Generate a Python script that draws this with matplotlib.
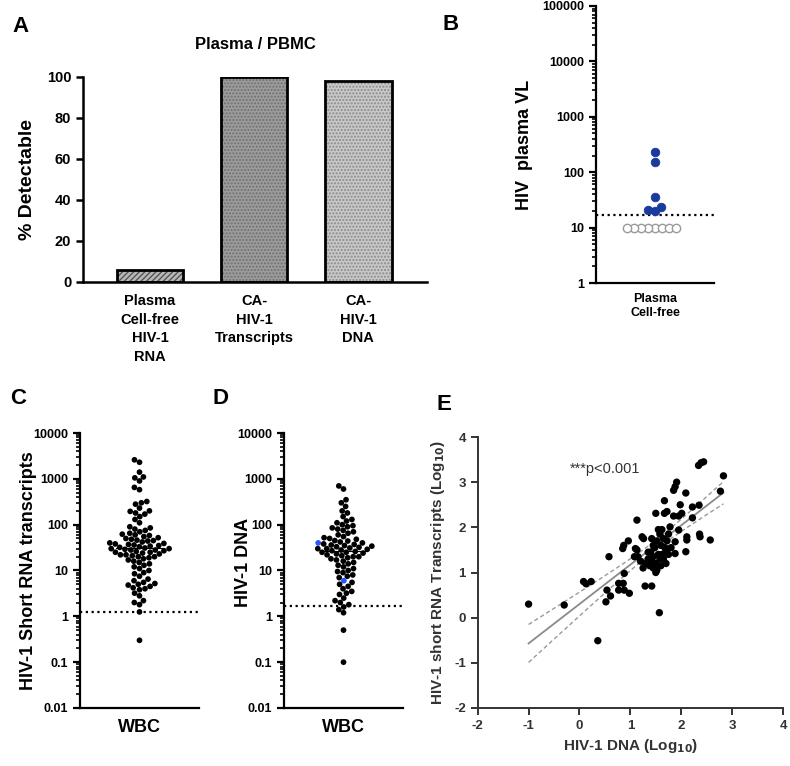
import numpy as np
import matplotlib.pyplot as plt
from matplotlib.ticker import LogLocator, NullFormatter

plt.rcParams['font.family'] = ['Liberation Sans', 'DejaVu Sans']
plt.rcParams['font.weight'] = 'bold'
plt.rcParams['axes.labelweight'] = 'bold'
plt.rcParams['axes.titleweight'] = 'bold'
plt.rcParams['axes.unicode_minus'] = False
plt.rcParams['hatch.linewidth'] = 1.0

# ---- data ----
a_labels = ['Plasma\nCell-free\nHIV-1\nRNA', 'CA-\nHIV-1\nTranscripts', 'CA-\nHIV-1\nDNA']
a_values = [6, 100, 98]

b_detect = [230, 150, 35, 20, 21, 24]
b_undetect = [10, 10, 10, 10, 10, 10, 10, 10]
b_limit = 17

c_values = [2600, 2300, 1400, 1100, 1050, 900, 650, 580, 320, 300, 280, 230, 200, 195,
            180, 170, 150, 130, 110, 90, 85, 80, 75, 70, 65, 62, 60, 58, 55, 52, 50, 48,
            46, 45, 44, 42, 40, 39, 38, 37, 36, 35, 34, 33, 32, 31, 30, 30, 29, 28, 28,
            27, 26, 25, 25, 24, 23, 22, 22, 21, 20, 20, 19, 18, 17, 16, 15, 14, 13, 12,
            11, 10, 9, 8.5, 7.5, 6.5, 6, 5.5, 5.2, 5, 4.8, 4.5, 4.2, 4, 3.8, 3.2, 2.8,
            2.2, 2.0, 1.8, 1.25, 0.3]
c_limit = 1.25

d_values = [700, 600, 350, 300, 250, 200, 180, 150, 130, 120, 110, 100, 95, 90, 85, 80,
            75, 70, 65, 60, 55, 52, 50, 48, 45, 44, 42, 40, 40, 38, 37, 36, 35, 34, 33,
            32, 31, 30, 30, 29, 28, 27, 26, 25, 25, 24, 23, 22, 21, 20, 20, 19, 18, 17,
            16, 15, 14, 13, 12, 11, 10, 9.5, 9, 8, 7.5, 7, 6, 5.5, 5, 4.5, 4, 3.5, 3.2,
            3, 2.5, 2.2, 2, 1.8, 1.6, 1.4, 1.2, 0.5, 0.1]
d_blue = [40, 6]
d_limit = 1.7

e_dna = [-1.0, -0.30, 0.36, 0.08, 0.13, 0.23, 0.54, 0.52, 0.61, 0.58, 0.85, 0.87, 0.96,
         0.88, 0.77, 0.86, 0.77, 0.88, 0.98, 1.13, 1.10, 1.13, 1.08, 1.23, 1.26, 1.29,
         1.42, 1.57, 1.50, 1.67, 1.67, 1.72, 1.85, 1.88, 1.91, 1.85, 1.95, 2.01, 1.98,
         2.09, 2.22, 2.35, 2.34, 2.39, 2.44, 2.83, 2.77, 2.11, 2.11, 2.09, 2.36, 2.37,
         2.57, 2.22, 1.88, 1.88, 1.78, 1.95,
         1.35, 1.40, 1.45, 1.50, 1.55, 1.48, 1.52, 1.60, 1.58, 1.55, 1.62, 1.65, 1.70,
         1.65, 1.60, 1.50, 1.45, 1.40, 1.35, 1.30, 1.25, 1.70, 1.75, 1.68, 1.45, 1.42,
         1.58, 1.52, 1.38, 1.62, 1.72, 1.80, 1.75, 1.20, 1.15]
e_rna = [0.30, 0.28, -0.51, 0.80, 0.75, 0.80, 0.61, 0.35, 0.48, 1.35, 1.53, 1.60, 1.70,
         0.98, 0.76, 0.76, 0.61, 0.61, 0.54, 2.16, 1.53, 1.50, 1.35, 1.79, 1.75, 0.70,
         0.70, 0.11, 2.31, 2.59, 2.31, 2.35, 2.82, 2.90, 3.00, 2.25, 2.25, 2.31, 2.50,
         2.76, 2.45, 2.49, 3.37, 3.43, 3.45, 3.14, 2.80, 1.79, 1.72, 1.46, 1.85, 1.79,
         1.72, 2.21, 1.68, 1.42, 2.01, 1.94,
         1.30, 1.45, 1.35, 1.20, 1.40, 1.55, 1.70, 1.60, 1.85, 1.95, 1.95, 1.75, 1.50,
         1.30, 1.15, 1.00, 1.10, 1.25, 1.45, 1.20, 1.10, 1.20, 1.40, 1.55, 1.60, 1.75,
         1.30, 1.05, 1.15, 1.40, 1.70, 1.55, 1.85, 1.25, 1.35]

BLUE = '#1a3a9e'

fig = plt.figure(figsize=(7.9, 7.66), dpi=100)
W, H = 790.0, 766.0


def add_ax(left, top, right, bottom):
    return fig.add_axes([left / W, 1 - bottom / H, (right - left) / W, (bottom - top) / H])


def style(ax, lw=1.6):
    for s in ('top', 'right'):
        ax.spines[s].set_visible(False)
    for s in ('left', 'bottom'):
        ax.spines[s].set_linewidth(lw)
    ax.tick_params(width=lw, length=5, labelsize=9)
    ax.tick_params(which='minor', width=1.2, length=3)


def logstyle(ax):
    ax.set_yscale('log')
    ax.yaxis.set_minor_locator(LogLocator(base=10, subs=np.arange(2, 10)))
    ax.yaxis.set_minor_formatter(NullFormatter())
    ax.yaxis.set_major_formatter(plt.FuncFormatter(lambda v, p: ('%g' % v)))


def swarm_offsets(ax, vals, diam):
    # simple beeswarm in pixel space, returns x offsets in data units
    pts = ax.transData.transform(np.column_stack([np.zeros(len(vals)), vals]))
    ys = pts[:, 1]
    ppu = ax.transData.transform((1, 1))[0] - ax.transData.transform((0, 1))[0]
    order = np.argsort(ys)
    placed = []
    xs = np.zeros(len(vals))
    for i in order:
        cands = [0.0]
        for (px, py) in placed:
            dy = ys[i] - py
            if abs(dy) < diam:
                dx = np.sqrt(diam ** 2 - dy ** 2)
                cands += [px - dx, px + dx]
        cands.sort(key=abs)
        for c in cands:
            if all((c - px) ** 2 + (ys[i] - py) ** 2 >= diam ** 2 - 1e-6 for px, py in placed):
                break
        placed.append((c, ys[i]))
        xs[i] = c
    return xs / ppu


# ---- A ----
axA = add_ax(83, 77, 427, 282)
style(axA, 1.8)
xA = np.arange(len(a_values))
faces = ['#b8b8b8', '#9c9c9c', '#c8c8c8']
hatches = ['//////', '.....', '.....']
hcols = ['#555555', '#707070', '#8a8a8a']
for i in range(len(a_values)):
    axA.bar(xA[i], a_values[i], width=0.64, color=faces[i], hatch=hatches[i],
            edgecolor=hcols[i], linewidth=0, zorder=2)
    axA.bar(xA[i], a_values[i], width=0.64, fill=False, edgecolor='black',
            linewidth=2.0, zorder=3)
axA.set_xlim(-0.644, 2.66)
axA.set_ylim(0, 100)
axA.set_yticks([0, 20, 40, 60, 80, 100])
axA.set_xticks(xA)
axA.set_xticklabels(a_labels, fontsize=10.5, linespacing=1.4)
axA.tick_params(axis='x', length=0, pad=9)
axA.tick_params(axis='y', labelsize=10.5)
axA.set_ylabel('% Detectable', fontsize=14)
axA.yaxis.set_label_coords(-0.137, 0.5)
axA.set_title('Plasma / PBMC', fontsize=12, pad=20)

# ---- B ----
axB = add_ax(596, 6, 714, 283)
style(axB, 1.6)
logstyle(axB)
axB.set_ylim(1, 100000)
axB.set_xlim(-1, 1)
axB.set_yticks([1, 10, 100, 1000, 10000, 100000])
axB.set_xticks([0])
axB.set_xticklabels(['Plasma\nCell-free'], fontsize=9, linespacing=1.3)
axB.tick_params(axis='x', length=0, pad=7)
axB.set_ylabel('HIV  plasma VL', fontsize=13)
axB.yaxis.set_label_coords(-0.53, 0.5)
axB.axhline(b_limit, color='black', linestyle=(0, (1, 1.6)), linewidth=1.6, zorder=1)
bd = swarm_offsets(axB, b_detect, 7.5)
axB.scatter(bd, b_detect, s=38, color=BLUE, edgecolors=BLUE, linewidths=0.6, zorder=3)
bu = swarm_offsets(axB, b_undetect, 7.0)
axB.scatter(bu, b_undetect, s=36, facecolors='white', edgecolors='#9a9a9a',
            linewidths=1.0, zorder=3)


# ---- C / D ----
def swarm_panel(left, right, vals, limit, ylabel, label_xy, blue=None):
    ax = add_ax(left, 433, right, 708)
    style(ax, 1.6)
    logstyle(ax)
    ax.set_ylim(0.01, 10000)
    ax.set_xlim(-1, 1)
    ax.set_yticks([0.01, 0.1, 1, 10, 100, 1000, 10000])
    ax.set_xticks([0])
    ax.set_xticklabels(['WBC'], fontsize=13)
    ax.tick_params(axis='x', length=0, pad=8)
    ax.set_ylabel(ylabel, fontsize=13)
    ax.yaxis.set_label_coords(*label_xy)
    ax.axhline(limit, color='black', linestyle=(0, (1, 1.6)), linewidth=1.6, zorder=1)
    xs = swarm_offsets(ax, vals, 5.6)
    cols = ['black'] * len(vals)
    if blue:
        vlist = list(vals)
        for b in blue:
            cols[vlist.index(b)] = '#2a55ff'
    ax.scatter(xs, vals, s=17, c=cols, edgecolors='none', zorder=3)
    med = np.median(vals)
    ax.plot([-0.4, 0.4], [med, med], color='black', linewidth=0.8, zorder=2)
    return ax


axC = swarm_panel(80, 199, c_values, c_limit, 'HIV-1 Short RNA transcripts', (-0.36, 0.5))
axD = swarm_panel(284, 403, d_values, d_limit, 'HIV-1 DNA', (-0.265, 0.53), blue=d_blue)

# ---- E ----
axE = add_ax(477.7, 437, 783, 708)
style(axE, 1.4)
for s in ('left', 'bottom'):
    axE.spines[s].set_color('#333333')
axE.set_xlim(-2, 4)
axE.set_ylim(-2, 4)
axE.set_xticks(range(-2, 5))
axE.set_yticks(range(-2, 5))
axE.tick_params(labelsize=9.5, colors='#333333')
xe = np.array(e_dna)
ye = np.array(e_rna)
axE.scatter(xe, ye, s=28, color='black', edgecolors='none', zorder=3)
slope, icpt = np.polyfit(xe, ye, 1)
n = len(xe)
xx = np.linspace(xe.min(), xe.max(), 100)
yy = slope * xx + icpt
resid = ye - (slope * xe + icpt)
s_err = np.sqrt(np.sum(resid ** 2) / (n - 2))
sxx = np.sum((xe - xe.mean()) ** 2)
band = 1.98 * s_err * np.sqrt(1.0 / n + (xx - xe.mean()) ** 2 / sxx)
axE.plot(xx, yy, color='#8a8a8a', linewidth=1.3, zorder=2)
axE.plot(xx, yy + band, color='#9a9a9a', linewidth=1.0, linestyle=(0, (3, 2)), zorder=2)
axE.plot(xx, yy - band, color='#9a9a9a', linewidth=1.0, linestyle=(0, (3, 2)), zorder=2)
axE.text(-0.18, 3.3, '***p<0.001', fontsize=10.5, fontweight='normal', color='#333333',
         va='center', ha='left')
axE.set_xlabel('HIV-1 DNA (Log$_{\\mathbf{10}}$)', fontsize=11, color='#333333')
axE.set_ylabel('HIV-1 short RNA Transcripts (Log$_{\\mathbf{10}}$)', fontsize=11,
               color='#333333')
axE.yaxis.set_label_coords(-0.10, 0.5)

# ---- panel letters ----
for lab, x, y in [('A', 12, 27), ('B', 443, 25), ('C', 10, 398), ('D', 212, 398),
                  ('E', 437, 405)]:
    fig.text(x / W, 1 - y / H, lab, fontsize=16, fontweight='bold', va='center', ha='left')

fig.savefig('out.png', dpi=100)
